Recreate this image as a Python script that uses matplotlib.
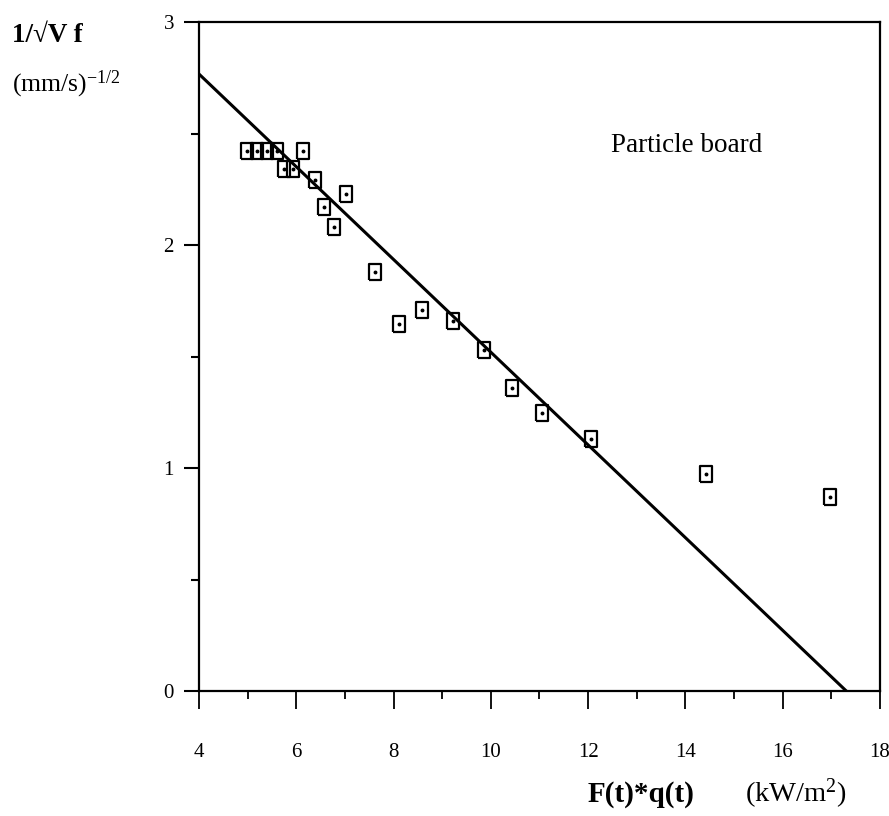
import matplotlib
matplotlib.use('Agg')
import matplotlib.pyplot as plt
import numpy as np

# measured points (Particle board)
flux = [4.98, 5.19, 5.40, 5.60, 5.75, 5.93, 6.14, 6.38, 6.57, 6.77, 7.02,
        7.61, 8.11, 8.58, 9.22, 9.85, 10.43, 11.06, 12.05, 14.43, 16.98]
inv_sqrt_vf = [2.42, 2.42, 2.42, 2.42, 2.34, 2.34, 2.42, 2.29, 2.17, 2.08, 2.23,
               1.88, 1.645, 1.71, 1.66, 1.53, 1.36, 1.245, 1.13, 0.973, 0.87]

# fitted straight line (end points)
fit_x = [4.0, 17.31]
fit_y = [2.767, 0.0]

plt.rcParams['font.family'] = ['Liberation Serif', 'DejaVu Serif']
plt.rcParams['mathtext.fontset'] = 'custom'
plt.rcParams['mathtext.rm'] = 'Liberation Serif'
plt.rcParams['mathtext.it'] = 'Liberation Serif:italic'

fig = plt.figure(figsize=(8.89, 8.16), dpi=100)
ax = fig.add_axes([0.2238, 0.153, 0.7661, 0.820])

ax.plot(fit_x, fit_y, color='black', lw=2.2, solid_capstyle='butt')

rect = [(-0.38, -0.5), (0.38, -0.5), (0.38, 0.5), (-0.38, 0.5), (-0.38, -0.5)]
ax.plot(flux, inv_sqrt_vf, ls='none', marker=rect, ms=12, mfc='none',
        mec='black', mew=1.6)
ax.plot(flux, inv_sqrt_vf, ls='none', marker='o', ms=1.8, color='black')

ax.set_xlim(4, 18)
ax.set_ylim(0, 3)
ax.set_xticks(np.arange(4, 19, 2))
ax.set_xticks(np.arange(5, 18, 2), minor=True)
ax.set_yticks([0, 1, 2, 3])
ax.set_yticks([0.5, 1.5, 2.5], minor=True)

for s in ax.spines.values():
    s.set_linewidth(1.6)

ax.tick_params(axis='x', which='major', direction='out', length=13, width=1.3,
               pad=24, labelsize=15)
ax.tick_params(axis='x', which='minor', direction='out', length=6, width=1.3)
ax.tick_params(axis='y', which='major', direction='out', length=11, width=1.5,
               pad=7, labelsize=15)
ax.tick_params(axis='y', which='minor', direction='out', length=6, width=1.5)

ax.text(12.46, 2.417, 'Particle board', fontsize=19.5, color='black',
        ha='left', va='baseline')

fig.text(0.0135, 0.9485, '1/\u221aV f', fontsize=19.5, fontweight='bold',
         ha='left', va='baseline')
fig.text(0.0135, 0.888, '(mm/s)$^{\\mathrm{-1/2}}$', fontsize=18.5,
         ha='left', va='baseline')

fig.text(0.6614, 0.0172, 'F(t)*q(t)', fontsize=21, fontweight='bold',
         ha='left', va='baseline')
fig.text(0.838, 0.0172, '(kW/m$^{\\mathrm{2}}$)', fontsize=20.5,
         ha='left', va='baseline')

fig.savefig('out.png', dpi=100)
